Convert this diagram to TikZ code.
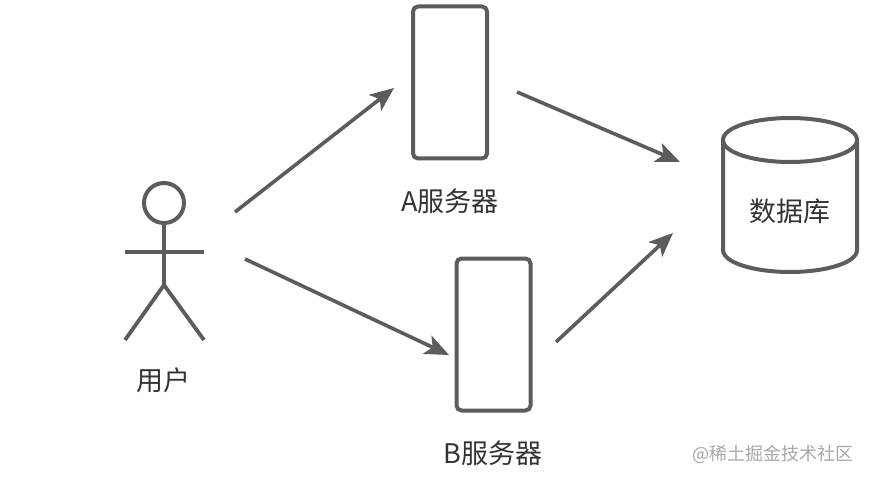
\documentclass[tikz,border=0pt]{standalone}
\usepackage{fontspec}
\setmainfont{Noto Sans CJK SC}
\usetikzlibrary{arrows.meta}
\definecolor{ln}{HTML}{5C5C5C}
\definecolor{tx}{HTML}{333333}
\definecolor{wm}{HTML}{A8A8A8}
\tikzset{
  x=1pt,y=-1pt,
  shapeline/.style={draw=ln,line width=4pt},
  limb/.style={draw=ln,line width=3.8pt},
  server/.style={draw=ln,line width=4pt,rounded corners=5pt,minimum width=74pt,minimum height=152pt,inner sep=0pt},
  flow/.style={draw=ln,line width=3.6pt,-{Stealth[length=24pt,width=20pt,inset=6pt]}},
  lbl/.style={text=tx,inner sep=0pt,font=\fontsize{27}{30}\selectfont}
}
\begin{document}
\begin{tikzpicture}
\useasboundingbox (0,0) rectangle (869,481);
\fill[white] (0,0) rectangle (869,481);
% user
\node[shapeline,circle,minimum size=40pt,inner sep=0pt] (head) at (164,203) {};
\coordinate (hip) at (164,285);
\coordinate (armL) at (125,252);
\coordinate (armR) at (204,252);
\coordinate (legL) at (125,340);
\coordinate (legR) at (204,340);
\draw[limb] (head.south) -- (hip);
\draw[limb] (armL) -- (armR);
\draw[limb] (legL) -- (hip) -- (legR);
\node[lbl] (userlabel) at (163,380) {用户};
% servers
\node[server] (srvA) at (450,82.5) {};
\node[lbl] (alabel) at (450,201) {A服务器};
\node[server] (srvB) at (493.5,334.5) {};
\node[lbl] (blabel) at (493,453) {B服务器};
% database
\draw[shapeline,line join=round] (723,140) .. controls (723,127) and (755,118) .. (790,118) .. controls (825,118) and (857,127) .. (857,140) -- (857,250) .. controls (857,263) and (825,272) .. (790,272) .. controls (755,272) and (723,263) .. (723,250) -- cycle;
\draw[shapeline] (723,140) .. controls (723,153) and (755,162) .. (790,162) .. controls (825,162) and (857,153) .. (857,140);
\node[lbl] (dblabel) at (790,211) {数据库};
% connectors
\coordinate (u1) at (235,212);
\coordinate (u2) at (245,259);
\coordinate (a1) at (394,88);
\coordinate (b1) at (449,355);
\coordinate (a2) at (517,92);
\coordinate (b2) at (556,342);
\coordinate (d1) at (680,162);
\coordinate (d2) at (673,233);
\draw[flow] (u1) -- (a1);
\draw[flow] (u2) -- (b1);
\draw[flow] (a2) -- (d1);
\draw[flow] (b2) -- (d2);
\node[text=wm,inner sep=0pt,font=\fontsize{18}{20}\selectfont] (wmark) at (773,454) {@稀土掘金技术社区};
\end{tikzpicture}
\end{document}
